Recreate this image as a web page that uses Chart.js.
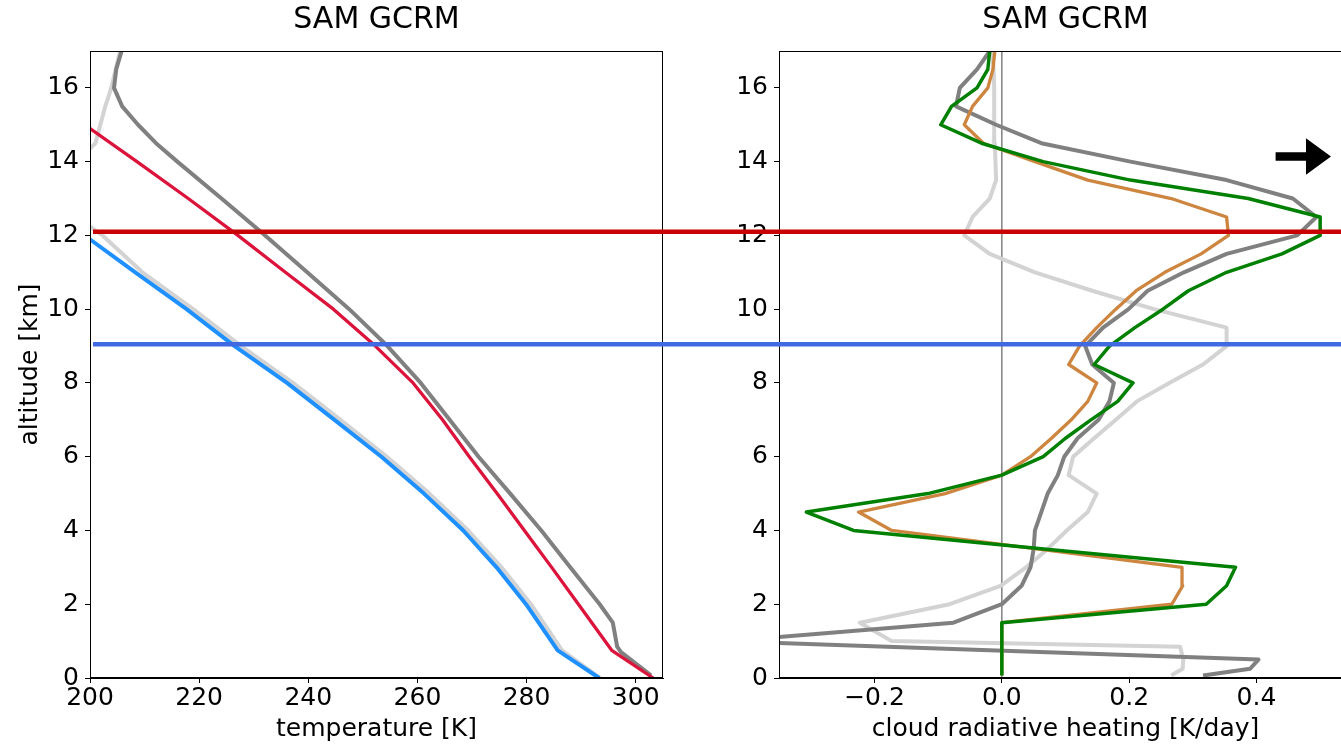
<!DOCTYPE html>
<html>
<head>
<meta charset="utf-8">
<script src="https://cdn.jsdelivr.net/npm/chart.js@4.4.0/dist/chart.umd.min.js"></script>
<style>
  html, body { margin: 0; padding: 0; background: #fff; overflow: hidden; }
  #left { position: absolute; left: 0; top: 0; width: 670px; height: 744px; }
  #right { position: absolute; left: 670px; top: 0; width: 682px; height: 744px; }
</style>
</head>
<body>
<div id="left"><canvas id="tempChart"></canvas></div>
<div id="right"><canvas id="crhChart"></canvas></div>
<script>
const FONT = 'DejaVu Sans';

// shared altitude ticks (km)
const altTicks = [0, 2, 4, 6, 8, 10, 12, 14, 16];
const altTickLabels = ['0', '2', '4', '6', '8', '10', '12', '14', '16'];

// left panel: temperature profiles (K)
const tempTicks = [200, 220, 240, 260, 280, 300];
const tempTickLabels = ['200', '220', '240', '260', '280', '300'];

const warmAlt  = [0, 0.75, 2, 3, 4, 5, 6, 7, 8, 9, 10, 11, 12, 13, 14, 15];
const warmTemp = [303.2, 295.6, 289.5, 284.6, 279.6, 274.6, 269.5, 264.6, 259.2, 252.3, 244.6, 235.8, 227.1, 218.0, 208.6, 199.0];

const coldAlt  = [0, 0.75, 2, 3, 4, 5, 6, 7, 8, 9, 10, 11, 12];
const coldTemp = [293.3, 285.7, 279.9, 274.5, 268.4, 261.2, 253.4, 244.8, 236.1, 226.5, 217.7, 208.3, 199.0];

const coldModelAlt  = [0, 0.75, 2, 3, 4, 5, 6, 7, 8, 9, 10, 11, 12, 12.5, 13, 13.5, 14, 14.5, 15, 15.5, 16, 16.5, 17];
const coldModelTemp = [293.5, 286.5, 280.8, 275.4, 269.3, 262.2, 254.4, 245.9, 237.2, 227.7, 218.9, 209.6, 202.3, 197.5, 195.5, 195.5, 197.5, 201.0, 201.9, 202.8, 203.9, 204.7, 205.5];

const warmModelAlt  = [0.07, 0.7, 0.85, 1.5, 2, 3, 4, 5, 6, 7, 8, 9, 10, 11, 12, 13, 14, 14.5, 15, 15.5, 16, 16.5, 17];
const warmModelTemp = [302.8, 297.3, 296.6, 295.8, 293.4, 288.0, 282.7, 277.0, 271.2, 265.9, 260.6, 254.5, 247.5, 239.8, 232.1, 224.1, 216.0, 212.1, 208.8, 205.9, 204.4, 204.8, 205.8];

// right panel: cloud radiative heating (K/day)
const crhTicks = [-0.2, 0, 0.2, 0.4];
const crhTickLabels = ['\u22120.2', '0.0', '0.2', '0.4'];

const sfcAlt = [0.07, 0.25, 0.5, 0.85, 1.0];
const crhAlt = [1.5, 2, 2.5, 3, 3.5, 4, 4.5, 5, 5.5, 6, 6.5, 7, 7.5, 8, 8.5, 9, 9.5, 10, 10.5, 11, 11.5, 12, 12.5, 13, 13.5, 14, 14.5, 15, 15.5, 16, 16.5, 17];

const greenSfc = [0, 0, 0, 0, 0];
const greenCrh = [0, 0.321, 0.353, 0.367, 0.066, -0.233, -0.307, -0.116, 0.0, 0.065, 0.1, 0.14, 0.182, 0.206, 0.145, 0.169, 0.209, 0.253, 0.293, 0.353, 0.44, 0.50, 0.50, 0.387, 0.202, 0.065, -0.032, -0.096, -0.079, -0.039, -0.022, -0.019];

const peruSfc = [0, 0, 0, 0, 0];
const peruCrh = [0, 0.267, 0.284, 0.283, 0.055, -0.173, -0.225, -0.089, 0.0, 0.045, 0.078, 0.109, 0.135, 0.149, 0.105, 0.122, 0.149, 0.179, 0.211, 0.256, 0.313, 0.356, 0.353, 0.266, 0.135, 0.052, -0.029, -0.059, -0.046, -0.022, -0.014, -0.011];

const graySfc = [0.316, 0.39, 0.403, -0.18, -0.43];
const grayCrh = [-0.076, 0.0, 0.031, 0.045, 0.05, 0.052, 0.062, 0.072, 0.088, 0.098, 0.119, 0.152, 0.169, 0.176, 0.142, 0.131, 0.159, 0.199, 0.229, 0.286, 0.353, 0.464, 0.494, 0.457, 0.353, 0.202, 0.062, -0.009, -0.072, -0.066, -0.039, -0.019];

const lightSfc = [0.266, 0.284, 0.285, 0.28, -0.173];
const lightCrh = [-0.223, -0.082, -0.002, 0.038, 0.072, 0.102, 0.135, 0.149, 0.105, 0.112, 0.145, 0.179, 0.212, 0.263, 0.316, 0.353, 0.353, 0.239, 0.142, 0.052, -0.019, -0.059, -0.046, -0.019, -0.009, -0.01, -0.011, -0.012, -0.012, -0.012, -0.013, -0.015];

const zeroLineX = [0, 0];
const zeroLineY = [0, 17];

// marked levels and arrow
const levelAlts = [12.1, 9.05];
const levelColors = ['#c80000', '#4169e1'];
const arrowTail = [0.43, 14.14];
const arrowTip = [0.517, 14.14];

function pts(xs, ys) {
  return xs.map((v, i) => ({ x: v, y: ys[i] }));
}

function line(data, color, width, order) {
  return {
    data: data,
    borderColor: color,
    borderWidth: width,
    pointRadius: 0,
    tension: 0,
    fill: false,
    clip: 0,
    borderJoinStyle: 'round',
    order: order
  };
}

const framePlugin = {
  id: 'frame',
  afterDatasetsDraw(chart) {
    const a = chart.chartArea;
    const ctx = chart.ctx;
    ctx.save();
    ctx.strokeStyle = '#000';
    ctx.lineWidth = 1;
    const l = Math.round(a.left) + 0.5, t = Math.round(a.top) + 0.5;
    const r = Math.round(a.right) - 0.5, b = Math.round(a.bottom) - 0.5;
    ctx.strokeRect(l, t, r - l, b - t);
    ctx.restore();
  }
};

function levelLines(startAtAxis) {
  return {
    id: 'levelLines',
    afterDraw(chart) {
      const ctx = chart.ctx;
      const y = chart.scales.y;
      const x0 = startAtAxis ? chart.chartArea.left + 3 : 0;
      ctx.save();
      ctx.lineWidth = 4.5;
      levelAlts.forEach((alt, i) => {
        const py = y.getPixelForValue(alt);
        ctx.strokeStyle = levelColors[i];
        ctx.beginPath();
        ctx.moveTo(x0, py);
        ctx.lineTo(chart.width, py);
        ctx.stroke();
      });
      ctx.restore();
    }
  };
}

const arrowPlugin = {
  id: 'arrow',
  afterDraw(chart) {
    const xs = chart.scales.x, ys = chart.scales.y;
    const x0 = xs.getPixelForValue(arrowTail[0]);
    const x1 = xs.getPixelForValue(arrowTip[0]);
    const y = ys.getPixelForValue(arrowTail[1]);
    const headLen = 25, headHalf = 18.3, shaftHalf = 4.3;
    const ctx = chart.ctx;
    ctx.save();
    ctx.fillStyle = '#000';
    ctx.beginPath();
    ctx.moveTo(x0, y - shaftHalf);
    ctx.lineTo(x1 - headLen, y - shaftHalf);
    ctx.lineTo(x1 - headLen, y - headHalf);
    ctx.lineTo(x1, y);
    ctx.lineTo(x1 - headLen, y + headHalf);
    ctx.lineTo(x1 - headLen, y + shaftHalf);
    ctx.lineTo(x0, y + shaftHalf);
    ctx.closePath();
    ctx.fill();
    ctx.restore();
  }
};

function axisOptions(min, max, ticks, labels, fixedSize, horizontal, title) {
  const opts = {
    type: 'linear',
    min: min,
    max: max,
    afterBuildTicks: s => { s.ticks = ticks.map(v => ({ value: v })); },
    afterFit: s => { if (horizontal) { s.height = fixedSize; } else { s.width = fixedSize; } },
    grid: { display: true, drawOnChartArea: false, drawTicks: true, tickLength: 5, tickWidth: 1, tickColor: '#000' },
    border: { display: true, color: '#000', width: 1 },
    ticks: {
      color: '#000',
      font: { family: FONT, size: 25 },
      padding: horizontal ? 0 : 6,
      maxRotation: 0,
      autoSkip: false,
      callback: (v, i) => labels[i]
    }
  };
  if (title) {
    opts.title = {
      display: true,
      text: title,
      color: '#000',
      font: { family: FONT, size: 25 },
      padding: horizontal ? { top: 0, bottom: 0 } : { top: 15, bottom: 0 }
    };
  }
  return opts;
}

function chartOptions(xAxis, yAxis, rightPad) {
  return {
    animation: false,
    responsive: true,
    maintainAspectRatio: false,
    layout: { padding: { left: 0, right: rightPad, top: 0, bottom: 0 } },
    plugins: {
      legend: { display: false },
      tooltip: { enabled: false },
      title: {
        display: true,
        text: 'SAM GCRM',
        fullSize: false,
        color: '#000',
        font: { family: FONT, size: 30, weight: 'normal' },
        padding: { top: 2, bottom: 13 }
      }
    },
    scales: { x: xAxis, y: yAxis }
  };
}

Chart.defaults.font.family = FONT;

new Chart(document.getElementById('tempChart'), {
  type: 'line',
  data: {
    datasets: [
      line(pts(coldModelTemp, coldModelAlt), '#d3d3d3', 4, 4),
      line(pts(warmModelTemp, warmModelAlt), '#808080', 4, 3),
      line(pts(warmTemp, warmAlt), '#dc143c', 3.3, 2),
      line(pts(coldTemp, coldAlt), '#1e90ff', 4, 1)
    ]
  },
  options: chartOptions(
    axisOptions(200, 305, tempTicks, tempTickLabels, 66, true, 'temperature [K]'),
    axisOptions(0, 17, altTicks, altTickLabels, 90, false, 'altitude [km]'),
    7
  ),
  plugins: [framePlugin, levelLines(true)]
});

new Chart(document.getElementById('crhChart'), {
  type: 'line',
  data: {
    datasets: [
      line(pts(zeroLineX, zeroLineY), '#808080', 1.5, 6),
      line(pts(lightSfc.concat(lightCrh), sfcAlt.concat(crhAlt)), '#d3d3d3', 4, 5),
      line(pts(graySfc.concat(grayCrh), sfcAlt.concat(crhAlt)), '#808080', 4, 4),
      line(pts(peruSfc.concat(peruCrh), sfcAlt.concat(crhAlt)), '#cd853f', 3.3, 3),
      line(pts(greenSfc.concat(greenCrh), sfcAlt.concat(crhAlt)), '#008000', 3.5, 2)
    ]
  },
  options: chartOptions(
    axisOptions(-0.35, 0.55, crhTicks, crhTickLabels, 66, true, 'cloud radiative heating [K/day]'),
    axisOptions(0, 17, altTicks, altTickLabels, 109, false, null),
    0
  ),
  plugins: [framePlugin, levelLines(false), arrowPlugin]
});
</script>
</body>
</html>
